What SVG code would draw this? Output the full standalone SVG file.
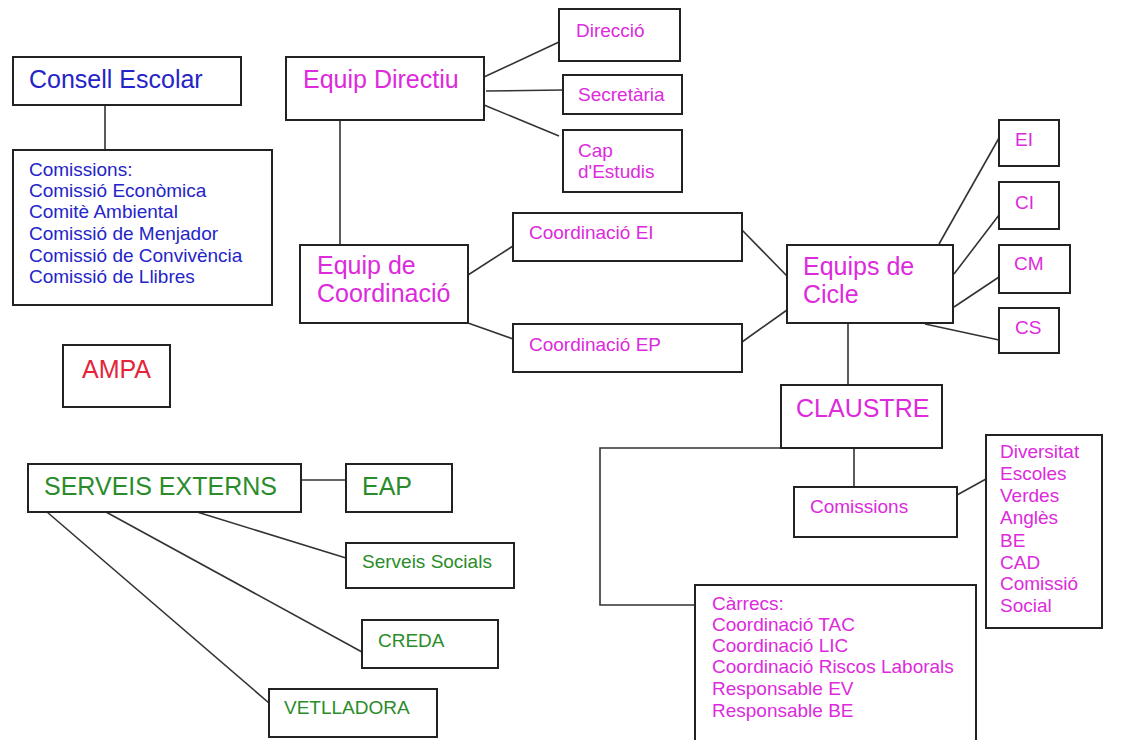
<svg xmlns="http://www.w3.org/2000/svg" width="1121" height="740" viewBox="0 0 1121 740">
<style>
.b{fill:#fff;stroke:#222;stroke-width:2}
.c line,.c polyline{stroke:#333;stroke-width:1.6;fill:none}
text{font-family:"Liberation Sans",Arial,sans-serif}
.L{font-size:25px}
.S{font-size:19px}
.bl{fill:#2424c8}
.mg{fill:#dc2adc}
.rd{fill:#e4243a}
.gr{fill:#2a8c2a}
</style>
<rect width="1121" height="740" fill="#fff"/>
<g class="c" id="connectors">
<line x1="105" y1="105" x2="105" y2="150"/>
<line x1="340" y1="120" x2="340" y2="245"/>
<line x1="484" y1="77" x2="559" y2="42"/>
<line x1="486" y1="91" x2="563" y2="90"/>
<line x1="484" y1="105" x2="559" y2="136"/>
<line x1="468" y1="275" x2="513" y2="246"/>
<line x1="468" y1="323" x2="513" y2="339"/>
<line x1="742" y1="230" x2="787" y2="276"/>
<line x1="742" y1="342" x2="787" y2="310"/>
<line x1="939" y1="244" x2="999" y2="138"/>
<line x1="954" y1="274" x2="999" y2="215"/>
<line x1="954" y1="307" x2="999" y2="277"/>
<line x1="925" y1="324" x2="999" y2="340"/>
<line x1="848" y1="323" x2="848" y2="385"/>
<polyline points="781,448 600,448 600,605 695,605"/>
<line x1="854" y1="448" x2="854" y2="487"/>
<line x1="957" y1="495" x2="986" y2="479"/>
<line x1="301" y1="480" x2="346" y2="480"/>
<line x1="197" y1="512" x2="346" y2="558"/>
<line x1="106" y1="512" x2="362" y2="652"/>
<line x1="47" y1="512" x2="269" y2="703"/>
</g>
<g id="consell-escolar"><rect class="b" x="13" y="57" width="228" height="48"/><text class="L bl" x="29" y="88">Consell Escolar</text></g>
<g id="comissions-ce"><rect class="b" x="13" y="150" width="259" height="155"/>
<text class="S bl" x="29"><tspan x="29" y="176">Comissions:</tspan><tspan x="29" y="197">Comissió Econòmica</tspan><tspan x="29" y="218">Comitè Ambiental</tspan><tspan x="29" y="240">Comissió de Menjador</tspan><tspan x="29" y="262">Comissió de Convivència</tspan><tspan x="29" y="283">Comissió de Llibres</tspan></text></g>
<g id="ampa"><rect class="b" x="63" y="345" width="107" height="62"/><text class="L rd" x="82" y="378">AMPA</text></g>
<g id="equip-directiu"><rect class="b" x="286" y="57" width="198" height="63"/><text class="L mg" x="303" y="88">Equip Directiu</text></g>
<g id="direccio"><rect class="b" x="559" y="9" width="121" height="52"/><text class="S mg" x="576" y="37">Direcció</text></g>
<g id="secretaria"><rect class="b" x="563" y="75" width="119" height="39"/><text class="S mg" x="578" y="101">Secretària</text></g>
<g id="cap-estudis"><rect class="b" x="563" y="130" width="119" height="62"/><text class="S mg"><tspan x="578" y="157">Cap</tspan><tspan x="578" y="178">d'Estudis</tspan></text></g>
<g id="equip-coordinacio"><rect class="b" x="300" y="245" width="168" height="78"/><text class="L mg"><tspan x="317" y="274">Equip de</tspan><tspan x="317" y="302">Coordinació</tspan></text></g>
<g id="coord-ei"><rect class="b" x="513" y="213" width="229" height="48"/><text class="S mg" x="529" y="239">Coordinació EI</text></g>
<g id="coord-ep"><rect class="b" x="513" y="324" width="229" height="48"/><text class="S mg" x="529" y="351">Coordinació EP</text></g>
<g id="equips-cicle"><rect class="b" x="787" y="245" width="166" height="78"/><text class="L mg"><tspan x="803" y="275">Equips de</tspan><tspan x="803" y="303">Cicle</tspan></text></g>
<g id="ei"><rect class="b" x="999" y="120" width="60" height="46"/><text class="S mg" x="1015" y="146">EI</text></g>
<g id="ci"><rect class="b" x="999" y="182" width="60" height="47"/><text class="S mg" x="1015" y="209">CI</text></g>
<g id="cm"><rect class="b" x="999" y="245" width="71" height="48"/><text class="S mg" x="1014" y="270">CM</text></g>
<g id="cs"><rect class="b" x="999" y="308" width="60" height="45"/><text class="S mg" x="1015" y="334">CS</text></g>
<g id="claustre"><rect class="b" x="781" y="385" width="161" height="63"/><text class="L mg" x="796" y="417">CLAUSTRE</text></g>
<g id="comissions"><rect class="b" x="794" y="487" width="163" height="50"/><text class="S mg" x="810" y="513">Comissions</text></g>
<g id="diversitat"><rect class="b" x="986" y="435" width="116" height="193"/>
<text class="S mg"><tspan x="1000" y="458">Diversitat</tspan><tspan x="1000" y="480">Escoles</tspan><tspan x="1000" y="502">Verdes</tspan><tspan x="1000" y="524">Anglès</tspan><tspan x="1000" y="547">BE</tspan><tspan x="1000" y="569">CAD</tspan><tspan x="1000" y="590">Comissió</tspan><tspan x="1000" y="612">Social</tspan></text></g>
<g id="carrecs"><rect class="b" x="695" y="585" width="281" height="160"/>
<text class="S mg"><tspan x="712" y="610">Càrrecs:</tspan><tspan x="712" y="631">Coordinació TAC</tspan><tspan x="712" y="652">Coordinació LIC</tspan><tspan x="712" y="673">Coordinació Riscos Laborals</tspan><tspan x="712" y="695">Responsable EV</tspan><tspan x="712" y="717">Responsable BE</tspan></text></g>
<g id="serveis-externs"><rect class="b" x="28" y="464" width="273" height="48"/><text class="L gr" x="44" y="495">SERVEIS EXTERNS</text></g>
<g id="eap"><rect class="b" x="346" y="464" width="106" height="48"/><text class="L gr" x="362" y="495">EAP</text></g>
<g id="serveis-socials"><rect class="b" x="346" y="543" width="168" height="45"/><text class="S gr" x="362" y="568">Serveis Socials</text></g>
<g id="creda"><rect class="b" x="362" y="620" width="136" height="48"/><text class="S gr" x="378" y="647">CREDA</text></g>
<g id="vetlladora"><rect class="b" x="269" y="689" width="168" height="48"/><text class="S gr" x="284" y="714">VETLLADORA</text></g>
</svg>
